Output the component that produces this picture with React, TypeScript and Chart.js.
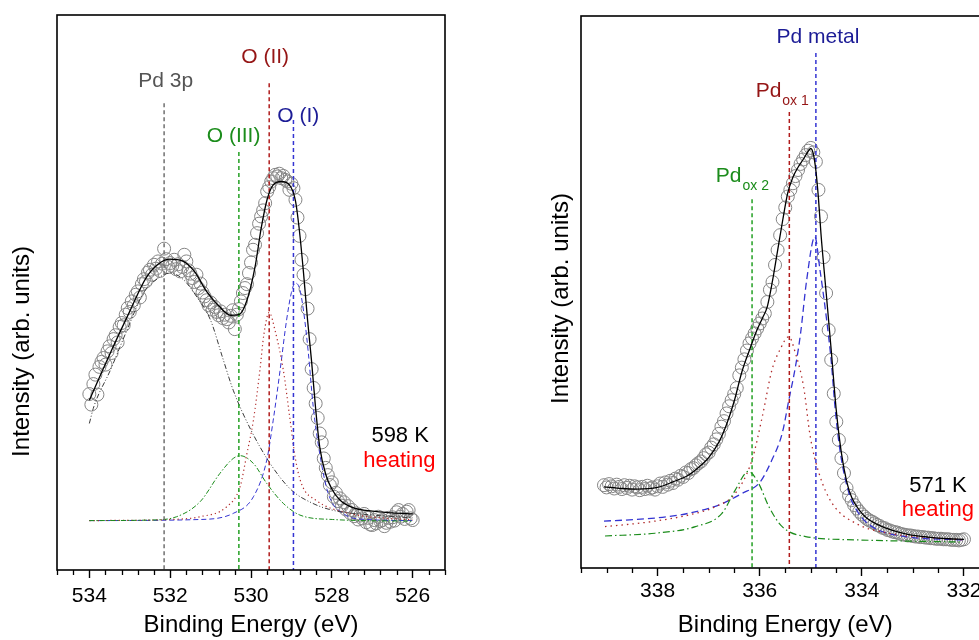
import React, { useEffect, useRef } from "react";
import { Chart, registerables } from "chart.js";

Chart.register(...registerables);

type Pt = [number, number];

const FONT = "'Liberation Sans', Arial, Helvetica, sans-serif";

// ---------- O 1s / Pd 3p region, 598 K ----------
const o1sMeasured: Pt[] = [
  [534.0, 31.7], [533.95, 29.8], [533.9, 33.5], [533.85, 35.2], [533.8, 31.6], [533.75, 36.6],
  [533.7, 37.5], [533.65, 38.2], [533.6, 37.0], [533.55, 39.4], [533.5, 40.3], [533.45, 39.1],
  [533.4, 41.6], [533.35, 42.3], [533.3, 41.0], [533.25, 43.8], [533.2, 44.5], [533.15, 44.1],
  [533.1, 46.0], [533.05, 47.2], [533.0, 46.5], [532.95, 48.4], [532.9, 47.7], [532.85, 49.6],
  [532.8, 50.2], [532.75, 49.1], [532.7, 51.5], [532.65, 52.4], [532.6, 52.0], [532.55, 53.6],
  [532.5, 54.1], [532.45, 53.2], [532.4, 55.0], [532.35, 54.3], [532.3, 55.6], [532.25, 53.9],
  [532.2, 55.2], [532.15, 57.9], [532.1, 56.0], [532.05, 54.6], [532.0, 55.3], [531.95, 54.8],
  [531.9, 55.9], [531.85, 54.2], [531.8, 55.1], [531.75, 53.8], [531.7, 54.6], [531.65, 56.8],
  [531.6, 55.6], [531.55, 54.0], [531.5, 53.4], [531.45, 52.6], [531.4, 51.9], [531.35, 53.2],
  [531.3, 50.8], [531.25, 51.6], [531.2, 50.0], [531.15, 49.3], [531.1, 48.6], [531.05, 47.7],
  [531.0, 48.2], [530.95, 46.9], [530.9, 47.4], [530.85, 46.5], [530.8, 45.9], [530.75, 46.6],
  [530.7, 45.4], [530.65, 46.0], [530.6, 45.2], [530.55, 44.6], [530.5, 45.8], [530.45, 46.8],
  [530.4, 43.4], [530.35, 46.0], [530.3, 47.0], [530.25, 48.4], [530.2, 49.9], [530.15, 50.8],
  [530.1, 51.5], [530.05, 53.5], [530.0, 55.4], [529.95, 57.7], [529.9, 58.6], [529.85, 60.7],
  [529.8, 62.4], [529.75, 63.7], [529.7, 64.8], [529.65, 66.1], [529.6, 68.2], [529.55, 69.0],
  [529.5, 70.0], [529.45, 70.6], [529.4, 71.2], [529.35, 70.9], [529.3, 71.4], [529.25, 70.6],
  [529.2, 71.0], [529.15, 70.3], [529.1, 70.0], [529.05, 68.5], [529.0, 69.6], [528.95, 68.8],
  [528.9, 66.7], [528.85, 63.5], [528.8, 60.2], [528.75, 55.9], [528.7, 53.2], [528.65, 50.6],
  [528.6, 47.1], [528.55, 41.6], [528.5, 36.2], [528.45, 32.8], [528.4, 30.0], [528.35, 27.4],
  [528.3, 24.6], [528.25, 23.0], [528.2, 20.1], [528.15, 18.4], [528.1, 17.1], [528.05, 15.3],
  [528.0, 15.8], [527.95, 13.2], [527.9, 13.9], [527.85, 12.4], [527.8, 12.9], [527.75, 11.6],
  [527.7, 12.2], [527.65, 10.9], [527.6, 11.5], [527.55, 10.3], [527.5, 10.8], [527.45, 9.7],
  [527.4, 10.2], [527.35, 9.1], [527.3, 9.8], [527.25, 9.3], [527.2, 10.1], [527.15, 8.6],
  [527.1, 9.4], [527.05, 8.2], [527.0, 8.1], [526.95, 9.0], [526.9, 8.4], [526.85, 9.6],
  [526.8, 8.8], [526.75, 9.0], [526.7, 7.9], [526.65, 8.5], [526.6, 9.4], [526.55, 8.7],
  [526.5, 9.5], [526.45, 8.9], [526.4, 10.4], [526.35, 10.8], [526.3, 9.6], [526.25, 10.1],
  [526.2, 9.2], [526.15, 10.5], [526.1, 10.8], [526.05, 9.3], [526.0, 9.0],
];

const o1sEnvelope: Pt[] = [
  [534.0, 30.6], [533.5, 38.8], [533.0, 46.6], [532.6, 52.6], [532.3, 55.1], [532.0, 56.0],
  [531.7, 55.7], [531.4, 53.8], [531.1, 50.2], [530.8, 47.6], [530.5, 45.9], [530.3, 46.0],
  [530.1, 48.6], [529.9, 54.6], [529.75, 61.5], [529.6, 66.8], [529.45, 69.4], [529.25, 70.0],
  [529.05, 69.4], [528.9, 66.5], [528.8, 61.0], [528.7, 53.5], [528.6, 45.0], [528.5, 37.5],
  [528.4, 29.0], [528.3, 22.2], [528.15, 17.2], [528.0, 14.6], [527.8, 12.6], [527.5, 11.3],
  [527.0, 10.6], [526.5, 10.3], [526.0, 10.1],
];

const pd3pComponent: Pt[] = [
  [534.0, 26.4], [533.89, 29.4], [533.48, 36.0], [533.07, 43.2], [532.66, 49.9], [532.25, 52.8],
  [532.0, 53.5], [531.67, 52.3], [531.34, 49.2], [531.0, 45.0], [530.7, 38.2], [530.44, 32.4],
  [530.0, 25.2], [529.5, 18.9], [529.0, 14.4], [528.5, 12.1], [528.0, 10.8], [527.0, 9.9],
  [526.0, 9.4],
];

const oIIIComponent: Pt[] = [
  [534.0, 8.9], [532.5, 9.0], [531.84, 9.6], [531.26, 12.3], [530.77, 17.4], [530.44, 20.1],
  [530.27, 20.6], [529.94, 19.2], [529.61, 15.6], [529.2, 12.0], [528.79, 9.9], [527.98, 9.1],
  [526.0, 8.8],
];

const oIIComponent: Pt[] = [
  [534.0, 8.9], [532.0, 9.1], [531.26, 9.6], [530.6, 11.4], [530.27, 15.0], [530.1, 21.0],
  [529.94, 27.0], [529.78, 36.0], [529.68, 42.5], [529.55, 46.4], [529.4, 43.0], [529.2, 36.0],
  [529.05, 28.0], [528.9, 20.0], [528.75, 15.5], [528.4, 12.6], [527.56, 10.2], [526.0, 9.0],
];

const oIComponent: Pt[] = [
  [534.0, 8.9], [531.26, 9.1], [530.44, 10.2], [529.94, 13.2], [529.61, 19.8], [529.45, 27.0],
  [529.28, 36.0], [529.12, 45.0], [529.0, 50.0], [528.91, 51.7], [528.79, 50.5], [528.67, 45.0],
  [528.58, 39.0], [528.46, 29.4], [528.3, 21.0], [528.09, 13.8], [527.72, 10.2], [527.14, 9.1],
  [526.0, 8.9],
];

// peak positions (eV) and the height each marker line reaches
const o1sMarkerNames = ["Pd 3p", "O (III)", "O (II)", "O (I)"];
const o1sMarkerEnergies = [532.15, 530.3, 529.55, 528.95];
const o1sMarkerTops = [84.1, 75.3, 87.7, 81.1];

const o1sMajorTicks = [534, 532, 530, 528, 526];
const o1sMinorTicks = [
  534.8, 534.4, 533.6, 533.2, 532.8, 532.4, 531.6, 531.2, 530.8, 530.4,
  529.6, 529.2, 528.8, 528.4, 527.6, 527.2, 526.8, 526.4, 525.6, 525.2,
];

// ---------- Pd 3d5/2 region, 571 K ----------
const pd3dMeasured: Pt[] = [
  [339.05, 15.0], [339.0, 14.6], [338.95, 15.2], [338.9, 14.8], [338.85, 14.4], [338.8, 15.1],
  [338.75, 14.7], [338.7, 14.3], [338.65, 15.0], [338.6, 14.5], [338.55, 14.9], [338.5, 14.2],
  [338.45, 14.8], [338.4, 14.6], [338.35, 14.1], [338.3, 14.7], [338.25, 14.3], [338.2, 14.9],
  [338.15, 14.4], [338.1, 14.6], [338.05, 14.2], [338.0, 14.8], [337.95, 15.3], [337.9, 14.7],
  [337.85, 15.5], [337.8, 15.1], [337.75, 15.8], [337.7, 15.4], [337.65, 16.2], [337.6, 16.0],
  [337.55, 16.7], [337.5, 16.5], [337.45, 17.3], [337.4, 17.2], [337.35, 17.9], [337.3, 18.1],
  [337.25, 18.6], [337.2, 19.0], [337.15, 19.3], [337.1, 19.9], [337.05, 20.6], [337.0, 20.9],
  [336.95, 21.8], [336.9, 22.4], [336.85, 23.3], [336.8, 24.3], [336.75, 25.6], [336.7, 26.6],
  [336.65, 28.0], [336.6, 29.3], [336.55, 30.4], [336.5, 31.5], [336.45, 32.6], [336.4, 34.9],
  [336.35, 36.3], [336.3, 37.8], [336.25, 39.4], [336.2, 40.7], [336.15, 41.6], [336.1, 42.5],
  [336.05, 43.4], [336.0, 44.3], [335.95, 45.2], [335.9, 46.1], [335.85, 48.2], [335.8, 50.4],
  [335.75, 51.8], [335.7, 54.9], [335.65, 57.6], [335.6, 60.3], [335.55, 63.2], [335.5, 65.3],
  [335.45, 67.3], [335.4, 68.5], [335.35, 69.7], [335.3, 71.0], [335.25, 72.1], [335.2, 73.2],
  [335.15, 74.0], [335.1, 74.8], [335.05, 75.6], [335.0, 76.1], [334.95, 75.3], [334.9, 73.6],
  [334.85, 68.5], [334.8, 63.7], [334.75, 56.3], [334.7, 49.8], [334.65, 43.1], [334.6, 37.7],
  [334.55, 31.6], [334.5, 26.5], [334.45, 23.2], [334.4, 19.9], [334.35, 17.2], [334.3, 14.5],
  [334.25, 13.1], [334.2, 12.3], [334.15, 11.4], [334.1, 10.8], [334.05, 10.2], [334.0, 9.7],
  [333.95, 9.3], [333.9, 8.9], [333.85, 8.6], [333.8, 8.4], [333.75, 8.1], [333.7, 7.8],
  [333.65, 7.6], [333.6, 7.3], [333.55, 7.2], [333.5, 6.9], [333.45, 6.8], [333.4, 6.6],
  [333.35, 6.5], [333.3, 6.4], [333.25, 6.2], [333.2, 6.1], [333.15, 6.0], [333.1, 5.9],
  [333.05, 5.9], [333.0, 5.8], [332.95, 5.7], [332.9, 5.7], [332.85, 5.6], [332.8, 5.6],
  [332.75, 5.5], [332.7, 5.5], [332.65, 5.4], [332.6, 5.4], [332.55, 5.3], [332.5, 5.3],
  [332.45, 5.3], [332.4, 5.2], [332.35, 5.2], [332.3, 5.2], [332.25, 5.1], [332.2, 5.1],
  [332.15, 5.1], [332.1, 5.0], [332.05, 5.1], [332.0, 5.2],
];

const pd3dEnvelope: Pt[] = [
  [339.05, 14.7], [338.7, 14.4], [338.4, 14.3], [338.0, 14.6], [337.7, 15.6], [337.4, 16.8],
  [337.2, 18.2], [337.0, 20.0], [336.8, 22.8], [336.65, 26.0], [336.5, 30.2], [336.35, 35.5],
  [336.2, 39.5], [336.05, 43.2], [335.95, 45.2], [335.85, 47.4], [335.75, 52.0], [335.65, 57.5],
  [335.55, 63.0], [335.45, 68.0], [335.35, 70.8], [335.25, 72.6], [335.15, 74.0], [335.05, 75.5],
  [335.0, 76.0], [334.95, 75.0], [334.9, 72.0], [334.85, 67.0], [334.8, 60.5], [334.7, 50.0],
  [334.6, 39.5], [334.5, 28.5], [334.4, 20.8], [334.3, 15.8], [334.2, 12.8], [334.05, 10.5],
  [333.9, 9.0], [333.7, 7.9], [333.4, 6.8], [333.1, 6.1], [332.7, 5.6], [332.3, 5.3],
  [332.0, 5.2],
];

const pdMetalComponent: Pt[] = [
  [339.05, 8.5], [338.4, 8.8], [337.8, 9.3], [337.4, 9.9], [337.0, 10.8], [336.7, 11.8],
  [336.35, 13.5], [336.0, 15.5], [335.76, 19.6], [335.56, 24.4], [335.43, 30.4], [335.3, 36.5],
  [335.2, 42.5], [335.08, 52.2], [334.92, 60.0], [334.82, 54.0], [334.69, 45.0], [334.6, 37.5],
  [334.52, 28.6], [334.42, 20.8], [334.25, 13.5], [334.06, 9.9], [333.8, 7.5], [333.14, 5.7],
  [332.03, 5.1],
];

const pdOx1Component: Pt[] = [
  [339.03, 7.5], [338.2, 8.3], [337.39, 9.6], [336.87, 11.1], [336.48, 13.5], [336.15, 19.6],
  [335.95, 27.4], [335.76, 35.9], [335.6, 39.6], [335.43, 41.9], [335.3, 38.9], [335.14, 32.8],
  [335.01, 23.8], [334.84, 17.2], [334.58, 11.7], [334.12, 8.1], [333.47, 6.3], [332.03, 5.1],
];

const pdOx2Component: Pt[] = [
  [339.03, 5.8], [338.05, 6.3], [337.26, 7.5], [336.74, 9.9], [336.48, 14.1], [336.22, 17.5],
  [336.02, 15.3], [335.82, 11.1], [335.56, 7.5], [335.1, 5.7], [334.12, 5.1], [332.03, 4.7],
];

const pd3dMarkerEnergies = [336.15, 335.42, 334.9];
const pd3dMarkerTops = [66.8, 82.6, 93.3];

const pd3dMajorTicks = [338, 336, 334, 332];
const pd3dMinorTicks = [
  339.5, 339, 338.5, 337.5, 337, 336.5, 335.5, 335, 334.5, 333.5, 333, 332.5, 331.5,
];

// ---------- drawing helpers ----------
const COLORS = {
  points: "#858585",
  fit: "#000000",
  green: "#1b8c1b",
  greenLine: "#23a023",
  darkRed: "#951515",
  redLine: "#b01c1c",
  red: "#b02a2a",
  blue: "#1c1c96",
  blueLine: "#3434d2",
  greyLine: "#707070",
  heating: "#ff0000",
};

const xy = (pts: Pt[]) => pts.map(([x, y]) => ({ x, y }));

type TextLabel = {
  text: string;
  sub?: string;
  x: number;
  y: number;
  color: string;
  size: number;
  align: CanvasTextAlign;
};

type Marker = { energy: number; top: number; color: string };

type PanelSpec = {
  measured: Pt[];
  envelope: Pt[];
  components: { pts: Pt[]; color: string; dash: number[]; width: number }[];
  markers: Marker[];
  labels: TextLabel[];
  xMin: number;
  xMax: number;
  majors: number[];
  minors: number[];
  padding: { left: number; right: number; top: number; bottom: number };
  axisHeight: number;
  tickPadding: number;
  yTitleDx: number;
  yTitleDy: number;
  canvasWidth: number;
  left: number;
};

// peak-position guide lines, drawn between the components and the fit envelope
const guideLines = {
  id: "guideLines",
  beforeDatasetDraw(chart: any, args: any, opts: any) {
    if (args.index !== opts.beforeIndex) return;
    const { ctx, chartArea } = chart;
    const xs = chart.scales.x;
    const ys = chart.scales.y;
    ctx.save();
    ctx.lineWidth = 1.5;
    ctx.setLineDash([4, 3]);
    for (const m of opts.markers as Marker[]) {
      const px = xs.getPixelForValue(m.energy);
      ctx.strokeStyle = m.color;
      ctx.beginPath();
      ctx.moveTo(px, ys.getPixelForValue(m.top));
      ctx.lineTo(px, chartArea.bottom);
      ctx.stroke();
    }
    ctx.restore();
  },
};

const decor = {
  id: "panelDecor",
  afterDraw(chart: any, _args: any, opts: any) {
    const { ctx, chartArea } = chart;
    const xs = chart.scales.x;
    const ys = chart.scales.y;
    const { left, right, top, bottom } = chartArea;
    ctx.save();
    // frame
    ctx.strokeStyle = "#000";
    ctx.lineWidth = 1.6;
    ctx.strokeRect(left, top, right - left, bottom - top);
    // minor ticks
    ctx.lineWidth = 1.3;
    ctx.beginPath();
    for (const v of opts.minors as number[]) {
      const px = Math.round(xs.getPixelForValue(v)) + 0.5;
      ctx.moveTo(px, bottom);
      ctx.lineTo(px, bottom + 5);
    }
    ctx.stroke();
    // labels
    for (const l of opts.labels as TextLabel[]) {
      const px = xs.getPixelForValue(l.x);
      const py = ys.getPixelForValue(l.y);
      ctx.fillStyle = l.color;
      ctx.textBaseline = "alphabetic";
      ctx.font = `${l.size}px ${FONT}`;
      ctx.textAlign = l.align;
      ctx.fillText(l.text, px, py);
      if (l.sub) {
        const w = ctx.measureText(l.text).width;
        ctx.font = `${Math.round(l.size * 0.66)}px ${FONT}`;
        ctx.textAlign = "left";
        ctx.fillText(l.sub, px + w + 1, py + 8);
      }
    }
    // y-axis title
    ctx.translate(left + opts.yTitleDx, (top + bottom) / 2 + opts.yTitleDy);
    ctx.rotate(-Math.PI / 2);
    ctx.fillStyle = "#000";
    ctx.font = `24px ${FONT}`;
    ctx.textAlign = "center";
    ctx.textBaseline = "middle";
    ctx.fillText("Intensity (arb. units)", 0, 0);
    ctx.restore();
  },
};

function Panel({ spec }: { spec: PanelSpec }) {
  const ref = useRef<HTMLCanvasElement | null>(null);

  useEffect(() => {
    if (!ref.current) return;
    const curve = (pts: Pt[], color: string, dash: number[], width: number) => ({
      data: xy(pts),
      showLine: true,
      borderColor: color,
      borderWidth: width,
      borderDash: dash,
      pointRadius: 0,
      fill: false,
      cubicInterpolationMode: "monotone" as const,
    });

    // index 0 is painted last: envelope on top, measured points underneath
    const datasets: any[] = [
      curve(spec.envelope, COLORS.fit, [], 1.3),
      ...spec.components.map((c) => curve(c.pts, c.color, c.dash, c.width)),
      {
        data: xy(spec.measured),
        showLine: false,
        pointStyle: "circle",
        pointRadius: 6.5,
        pointBorderWidth: 1,
        pointBorderColor: COLORS.points,
        pointBackgroundColor: "rgba(0,0,0,0)",
      },
    ];

    const chart = new Chart(ref.current, {
      type: "scatter",
      data: { datasets },
      plugins: [guideLines, decor],
      options: {
        responsive: false,
        animation: false,
        devicePixelRatio: 1,
        layout: { padding: spec.padding },
        plugins: {
          legend: { display: false },
          tooltip: { enabled: false },
          guideLines: { markers: spec.markers, beforeIndex: 0 },
          panelDecor: {
            minors: spec.minors,
            labels: spec.labels,
            yTitleDx: spec.yTitleDx,
            yTitleDy: spec.yTitleDy,
          },
        } as any,
        scales: {
          x: {
            type: "linear",
            reverse: true,
            min: spec.xMin,
            max: spec.xMax,
            afterBuildTicks: (s: any) => {
              s.ticks = spec.majors.map((v) => ({ value: v }));
            },
            afterFit: (s: any) => {
              s.height = spec.axisHeight;
            },
            grid: {
              display: true,
              drawOnChartArea: false,
              drawTicks: true,
              tickLength: 8,
              tickWidth: 1.4,
              tickColor: "#000",
            },
            border: { display: false },
            ticks: {
              color: "#000",
              font: { family: FONT, size: 21 },
              padding: spec.tickPadding,
              maxRotation: 0,
              autoSkip: false,
              callback: (v: any) => String(v),
            },
            title: {
              display: true,
              text: "Binding Energy (eV)",
              color: "#000",
              font: { family: FONT, size: 24 },
              padding: { top: 0, bottom: 0 },
            },
          },
          y: { display: false, min: 0, max: 100 },
        },
      },
    });
    return () => chart.destroy();
  }, [spec]);

  return (
    <canvas
      ref={ref}
      width={spec.canvasWidth}
      height={640}
      style={{ position: "absolute", left: spec.left, top: 0 }}
    />
  );
}

const o1sPanel: PanelSpec = {
  measured: o1sMeasured,
  envelope: o1sEnvelope,
  components: [
    { pts: pd3pComponent, color: "#3a3a3a", dash: [5, 2, 1, 2, 1, 2], width: 1 },
    { pts: oIIIComponent, color: COLORS.green, dash: [5, 2, 1.5, 2], width: 1 },
    { pts: oIIComponent, color: COLORS.red, dash: [1.2, 3], width: 1.2 },
    { pts: oIComponent, color: COLORS.blueLine, dash: [5, 3], width: 1 },
  ],
  markers: [
    { energy: o1sMarkerEnergies[0], top: o1sMarkerTops[0], color: COLORS.greyLine },
    { energy: o1sMarkerEnergies[1], top: o1sMarkerTops[1], color: COLORS.greenLine },
    { energy: o1sMarkerEnergies[2], top: o1sMarkerTops[2], color: COLORS.redLine },
    { energy: o1sMarkerEnergies[3], top: o1sMarkerTops[3], color: COLORS.blueLine },
  ],
  labels: [
    { text: o1sMarkerNames[0], x: 532.11, y: 87.0, color: "#555555", size: 21, align: "center" },
    { text: o1sMarkerNames[1], x: 530.43, y: 77.2, color: COLORS.green, size: 21, align: "center" },
    { text: o1sMarkerNames[2], x: 529.65, y: 91.4, color: COLORS.darkRed, size: 21, align: "center" },
    { text: o1sMarkerNames[3], x: 528.83, y: 80.7, color: COLORS.blue, size: 21, align: "center" },
    { text: "598 K", x: 526.31, y: 23.1, color: "#000", size: 22, align: "center" },
    { text: "heating", x: 526.33, y: 18.6, color: COLORS.heating, size: 22, align: "center" },
  ],
  xMin: 525.2,
  xMax: 534.8,
  majors: o1sMajorTicks,
  minors: o1sMinorTicks,
  padding: { left: 57, right: 25, top: 15, bottom: 0 },
  axisHeight: 70,
  tickPadding: 6,
  yTitleDx: -34.5,
  yTitleDy: 59,
  canvasWidth: 470,
  left: 0,
};

const pd3dPanel: PanelSpec = {
  measured: pd3dMeasured,
  envelope: pd3dEnvelope,
  components: [
    { pts: pdOx2Component, color: COLORS.green, dash: [7, 3, 1.5, 3], width: 1.2 },
    { pts: pdOx1Component, color: COLORS.red, dash: [1.5, 4], width: 1.3 },
    { pts: pdMetalComponent, color: COLORS.blueLine, dash: [7, 4], width: 1.3 },
  ],
  markers: [
    { energy: pd3dMarkerEnergies[0], top: pd3dMarkerTops[0], color: COLORS.greenLine },
    { energy: pd3dMarkerEnergies[1], top: pd3dMarkerTops[1], color: COLORS.redLine },
    { energy: pd3dMarkerEnergies[2], top: pd3dMarkerTops[2], color: COLORS.blueLine },
  ],
  labels: [
    { text: "Pd", sub: "ox 2", x: 336.86, y: 69.9, color: COLORS.green, size: 21, align: "left" },
    { text: "Pd", sub: "ox 1", x: 336.08, y: 85.3, color: COLORS.darkRed, size: 21, align: "left" },
    { text: "Pd metal", x: 334.86, y: 95.1, color: COLORS.blue, size: 21, align: "center" },
    { text: "571 K", x: 332.51, y: 13.8, color: "#000", size: 22, align: "center" },
    { text: "heating", x: 332.51, y: 9.4, color: COLORS.heating, size: 22, align: "center" },
  ],
  xMin: 331.5,
  xMax: 339.5,
  majors: pd3dMajorTicks,
  minors: pd3dMinorTicks,
  padding: { left: 91, right: 20.5, top: 16, bottom: 0 },
  axisHeight: 72,
  tickPadding: 3,
  yTitleDx: -20,
  yTitleDy: 6.5,
  canvasWidth: 520,
  left: 490,
};

export default function App() {
  return (
    <div
      style={{
        position: "fixed",
        left: 0,
        top: 0,
        width: 979,
        height: 640,
        overflow: "hidden",
        background: "#fff",
      }}
    >
      <Panel spec={o1sPanel} />
      <Panel spec={pd3dPanel} />
    </div>
  );
}
